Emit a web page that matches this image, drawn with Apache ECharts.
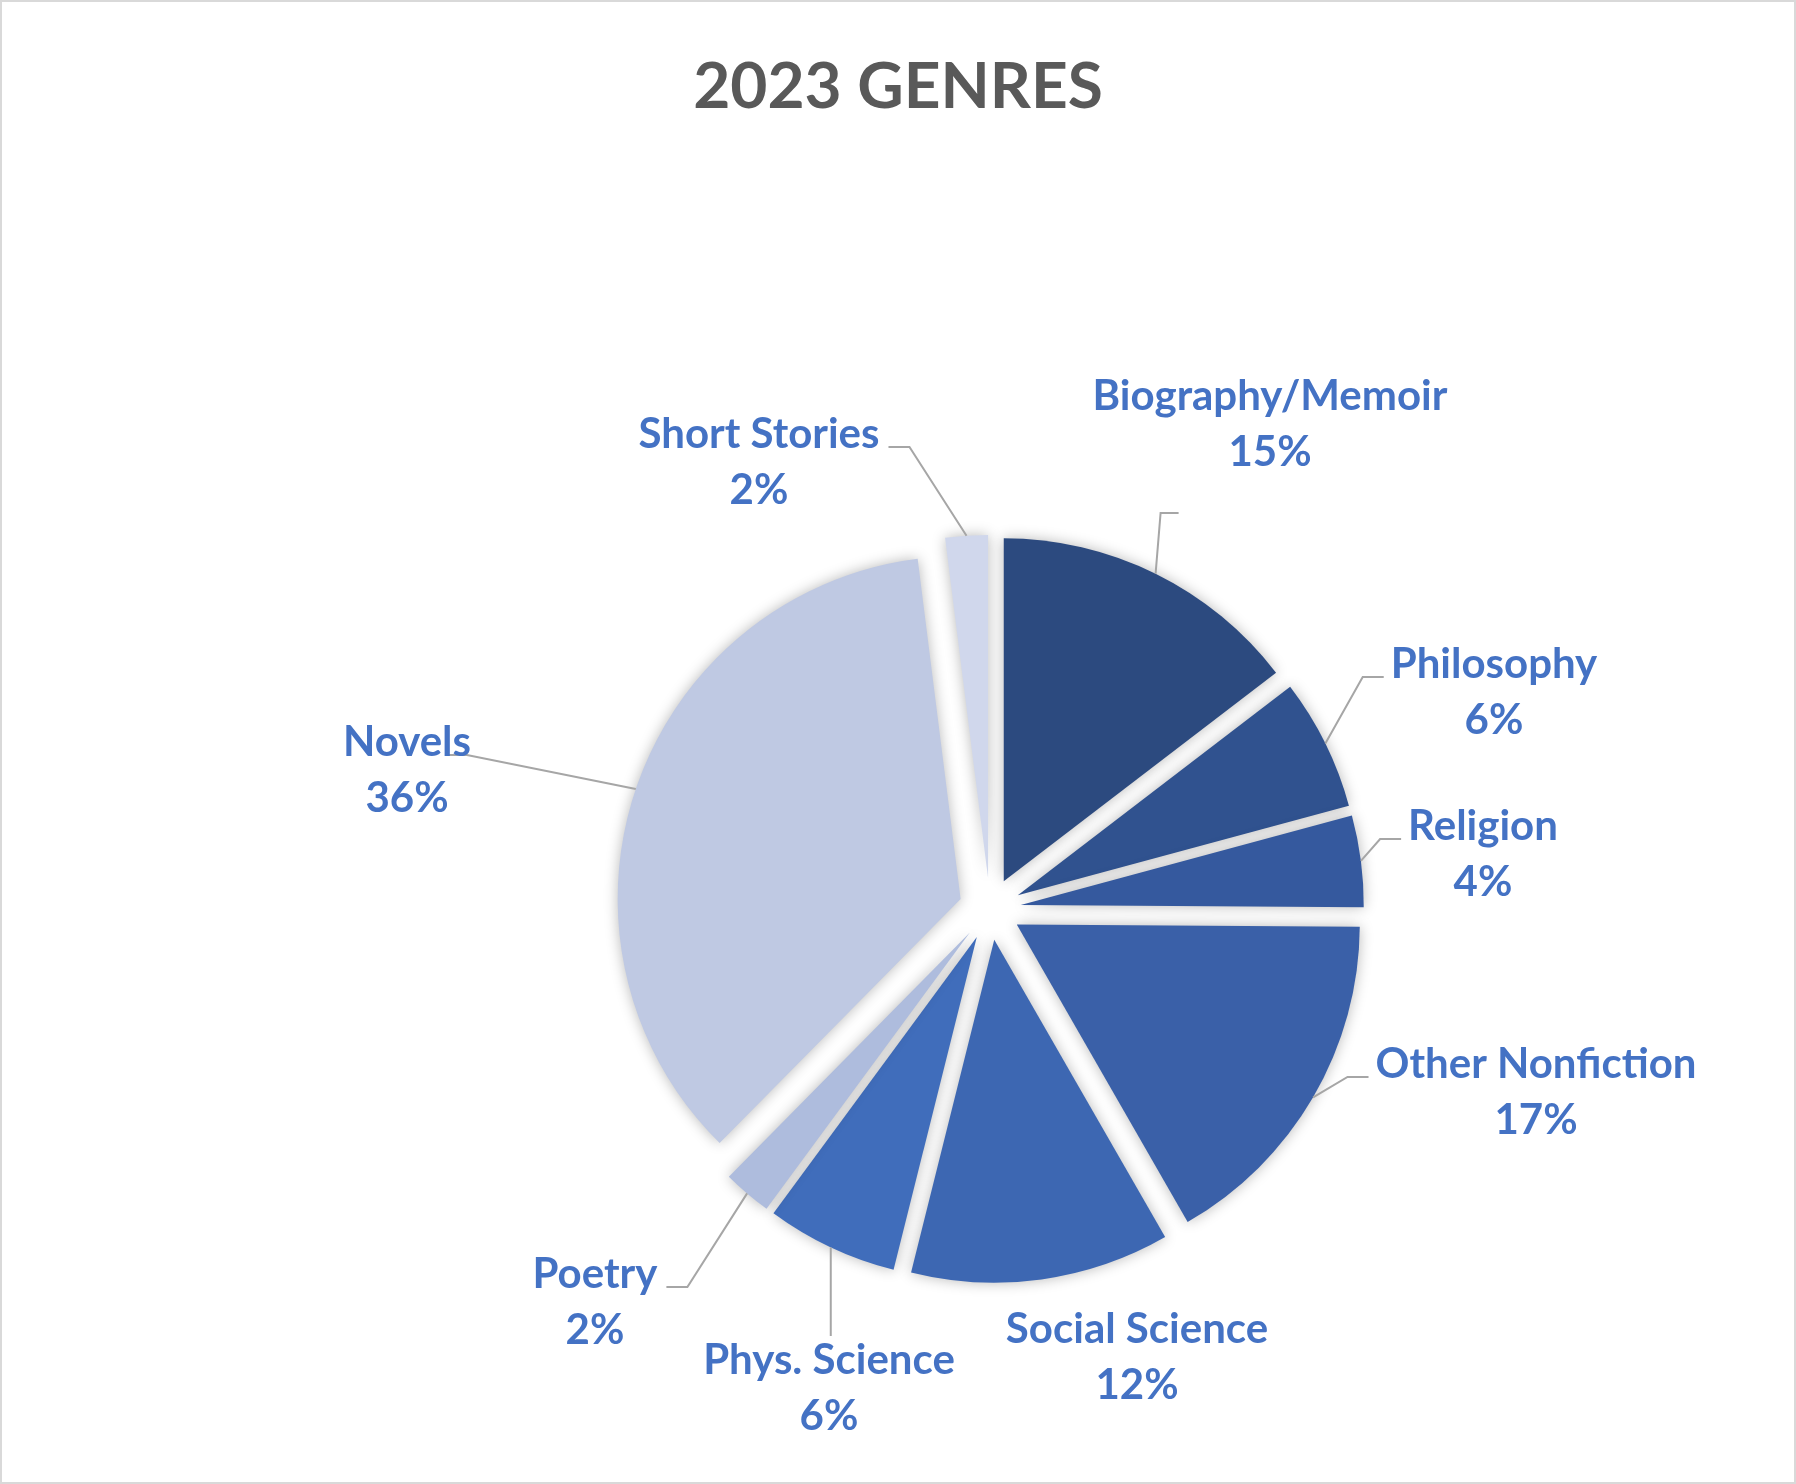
<!DOCTYPE html>
<html><head><meta charset="utf-8">
<script src="https://cdn.jsdelivr.net/npm/echarts@6/dist/echarts.min.js"></script>
<style>
html,body{margin:0;padding:0;background:#fff}
#wrap{position:relative;width:1796px;height:1484px}
#c{width:1796px;height:1484px}
#frame{position:absolute;left:0;top:0;right:0;bottom:0;border:2px solid #D9D9D9;pointer-events:none}
</style>
</head><body>
<div id="wrap"><div id="c"></div><div id="frame"></div></div>
<script>
// ---- data ----
const categories = ['Biography/Memoir', 'Philosophy', 'Religion', 'Other Nonfiction', 'Social Science', 'Phys. Science', 'Poetry', 'Novels', 'Short Stories'];
const values = [14.6, 6.2, 4.3, 16.6, 12.2, 6.2, 2.3, 35.6, 2.0];
const sliceColors = ['#2C4A7F', '#30528F', '#35599E', '#3A60A8', '#3D67B2', '#406DBB', '#AEBCDD', '#BFC9E3', '#D0D7EC'];

// ---- layout / style (not data) ----
const CX = 990, CY = 909, R = 343, EXPLODE = 31;
const LINE_H = 56;
// label block centres relative to pie centre
const labelOffsets = [[280, -485], [504, -217], [493, -55], [546, 183], [147, 448], [-161, 479], [-395, 393], [-583, -139], [-231, -447]];
// leader type: L = attach at label's left, R = at right, T = top, B = below, N = none ; second = x adjust
const leaderType = [['B', 0], ['L', 0], ['L', 0], ['L', 0], ['N', 0], ['T', 0], ['R', 0], ['R', -34], ['R', 0]];

const total = values.reduce((a, b) => a + b, 0);
const chart = echarts.init(document.getElementById('c'), null, { renderer: 'canvas' });

const sliceData = categories.map((name, i) => ({
  name, value: values[i], selected: true,
  itemStyle: { color: sliceColors[i] }
}));
const labelData = categories.map((name, i) => ({
  name, value: values[i],
  labelLine: { show: leaderType[i][0] !== 'N' }
}));

chart.setOption({
  animation: false,
  backgroundColor: '#ffffff',
  title: {
    text: '2023 GENRES', left: 'center', top: 50,
    textStyle: { fontFamily: 'Lato', fontWeight: 'bold', fontSize: 64, color: '#595959' }
  },
  series: [{
    type: 'pie',
    center: [CX, CY],
    radius: R,
    startAngle: 90,
    clockwise: true,
    selectedMode: 'multiple',
    selectedOffset: EXPLODE,
    silent: true,
    emphasis: { disabled: true },
    select: { itemStyle: { shadowBlur: 14, shadowColor: 'rgba(0,0,0,0.28)' } },
    itemStyle: { shadowBlur: 14, shadowColor: 'rgba(0,0,0,0.28)', borderWidth: 0 },
    label: { show: false },
    labelLine: { show: false },
    data: sliceData
  }, {
    // invisible twin that carries the data labels and leader lines
    type: 'pie',
    center: [CX, CY],
    radius: R,
    startAngle: 90,
    clockwise: true,
    silent: true,
    avoidLabelOverlap: false,
    emphasis: { disabled: true },
    itemStyle: { color: 'rgba(0,0,0,0)', borderWidth: 0 },
    z: 3,
    data: labelData,
    label: {
      show: true,
      position: 'outside',
      fontFamily: 'Lato', fontWeight: 'bold', fontSize: 42, color: '#4472C4',
      lineHeight: LINE_H,
      formatter: p => p.name + '\n' + Math.round(p.value / total * 100) + '%'
    },
    labelLine: { show: true, length: 20, length2: 20, smooth: false, lineStyle: { color: '#A6A6A6', width: 2 } },
    labelLayout: function (p) {
      const i = p.dataIndex;
      const lx = CX + labelOffsets[i][0], ly = CY + labelOffsets[i][1];
      const w = p.labelRect.width, h = p.labelRect.height;
      const firstY = ly - LINE_H / 2;
      const t = leaderType[i];
      const pts = p.labelLinePoints;
      const res = { x: lx, y: ly, align: 'center', verticalAlign: 'middle' };
      if (pts && t[0] !== 'N') {
        // move the arc anchor out by the explosion offset
        const vx = pts[0][0] - CX, vy = pts[0][1] - CY;
        const len = Math.sqrt(vx * vx + vy * vy) || 1;
        const k = (len + EXPLODE) / len;
        const s = [CX + vx * k, CY + vy * k];
        let e, m;
        if (t[0] === 'L') { e = [lx - w / 2 - 7 + t[1], firstY + 13]; m = [e[0] - 21, e[1]]; }
        else if (t[0] === 'R') { e = [lx + w / 2 + 9 + t[1], firstY + 13]; m = [e[0] + 21, e[1]]; }
        else if (t[0] === 'T') { e = [s[0], ly - h / 2 + 4]; m = [s[0], (s[1] + e[1]) / 2]; }
        else { m = [s[0] + 5, ly + 89]; e = [m[0] + 18, m[1]]; }
        res.labelLinePoints = [s, m, e];
      }
      return res;
    }
  }]
});
</script>
</body></html>
